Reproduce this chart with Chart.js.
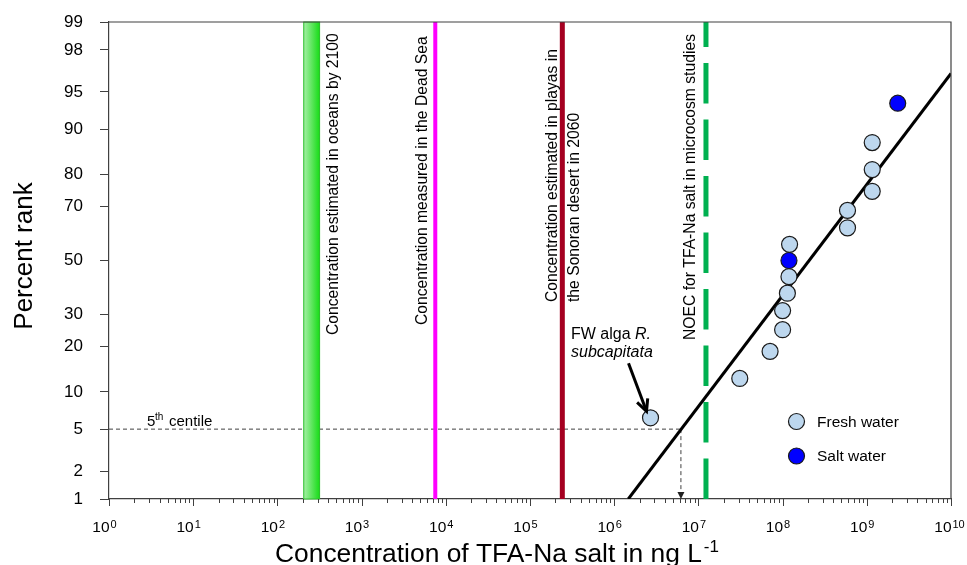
<!DOCTYPE html>
<html>
<head>
<meta charset="utf-8">
<title>SSD TFA-Na salt</title>
<script src="https://cdn.jsdelivr.net/npm/chart.js@4.4.1/dist/chart.umd.min.js"></script>
<style>
  html, body { margin: 0; padding: 0; background: #fff; }
  #wrap { width: 967px; height: 565px; }
</style>
</head>
<body>
<div id="wrap"><canvas id="grafikSSD" width="967" height="565"></canvas></div>
<script>
// =================================================================
// DATA
// =================================================================
const freshConc = [2.7e6, 3.1e7, 7.1e7, 1.0e8, 1.0e8, 1.14e8, 1.19e8, 1.21e8, 5.9e8, 5.9e8, 1.16e9, 1.16e9, 1.16e9];
const freshRank = [6.25, 12.5, 18.75, 25, 31.25, 37.5, 43.75, 56.25, 62.5, 68.75, 75, 81.25, 87.5];
const saltConc = [1.19e8, 2.33e9];
const saltRank = [50, 93.75];

// fitted log-normal SSD, drawn as a straight line on probit paper
const fitConc = [1.47e6, 1e10];
const fitRank = [1, 96.6];

const rankTicks = [1, 2, 5, 10, 20, 30, 50, 70, 80, 90, 95, 98, 99];
const decadeTicks = [0, 1, 2, 3, 4, 5, 6, 7, 8, 9, 10];

// reference concentrations (ng/L)
const oceanBand = [203, 321];
const deadSeaConc = 7500;
const sonoranConc = 2.42e5;
const noecConc = 1.23e7;
const hc5Conc = 6.2e6;
const centileRank = 5;

const FONT = '"Liberation Sans", Arial, Helvetica, sans-serif';

// inverse normal CDF (Acklam) -> probit scale for percent rank
function probit(p) {
    const a = [-3.969683028665376e+01, 2.209460984245205e+02, -2.759285104469687e+02, 1.383577518672690e+02, -3.066479806614716e+01, 2.506628277459239e+00];
    const b = [-5.447609879822406e+01, 1.615858368580409e+02, -1.556989798598866e+02, 6.680131188771972e+01, -1.328068155288572e+01];
    const c = [-7.784894002430293e-03, -3.223964580411365e-01, -2.400758277161838e+00, -2.549732539343734e+00, 4.374664141464968e+00, 2.938163982698783e+00];
    const d = [7.784695709041462e-03, 3.224671290700398e-01, 2.445134137142996e+00, 3.754408661907416e+00];
    const pl = 0.02425;
    let q, r;
    if (p < pl) {
        q = Math.sqrt(-2 * Math.log(p));
        return (((((c[0]*q+c[1])*q+c[2])*q+c[3])*q+c[4])*q+c[5]) / ((((d[0]*q+d[1])*q+d[2])*q+d[3])*q+1);
    }
    if (p > 1 - pl) {
        q = Math.sqrt(-2 * Math.log(1 - p));
        return -(((((c[0]*q+c[1])*q+c[2])*q+c[3])*q+c[4])*q+c[5]) / ((((d[0]*q+d[1])*q+d[2])*q+d[3])*q+1);
    }
    q = p - 0.5; r = q * q;
    return (((((a[0]*r+a[1])*r+a[2])*r+a[3])*r+a[4])*r+a[5])*q / (((((b[0]*r+b[1])*r+b[2])*r+b[3])*r+b[4])*r+1);
}
const z = pct => probit(pct / 100);
const zMin = z(rankTicks[0]);
const zMax = z(rankTicks[rankTicks.length - 1]);

const toPoints = (xs, ps) => xs.map((x, i) => ({ x: x, y: z(ps[i]) }));
const vline = conc => [{ x: conc, y: zMin }, { x: conc, y: zMax }];

// =================================================================
// PLUGIN: annotations, custom x axis, frame
// =================================================================
function rotText(ctx, text, x, y, font) {
    ctx.save();
    ctx.translate(x, y);
    ctx.rotate(-Math.PI / 2);
    ctx.font = font;
    ctx.textAlign = 'left';
    ctx.textBaseline = 'alphabetic';
    ctx.fillText(text, 0, 0);
    ctx.restore();
}

const annotasi = {
    id: 'annotasi',
    beforeDatasetsDraw(chart) {
        const ctx = chart.ctx, xs = chart.scales.x, ys = chart.scales.y, a = chart.chartArea;
        // 5th centile dashed guide + arrow down to the HC5
        const yc = ys.getPixelForValue(z(centileRank));
        const xh = xs.getPixelForValue(hc5Conc);
        ctx.save();
        ctx.strokeStyle = '#404040';
        ctx.lineWidth = 1;
        ctx.setLineDash([4, 3]);
        ctx.beginPath();
        ctx.moveTo(a.left, yc); ctx.lineTo(xh, yc);
        ctx.moveTo(xh, yc); ctx.lineTo(xh, a.bottom - 6);
        ctx.stroke();
        ctx.setLineDash([]);
        ctx.fillStyle = '#202020';
        ctx.beginPath();
        ctx.moveTo(xh, a.bottom); ctx.lineTo(xh - 3.5, a.bottom - 7); ctx.lineTo(xh + 3.5, a.bottom - 7);
        ctx.closePath(); ctx.fill();

        // ocean band with gradient
        const x0 = xs.getPixelForValue(oceanBand[0]);
        const x1 = xs.getPixelForValue(oceanBand[1]);
        const g = ctx.createLinearGradient(x0, 0, x1, 0);
        g.addColorStop(0, '#aaf0aa');
        g.addColorStop(1, '#14dc14');
        ctx.fillStyle = g;
        ctx.fillRect(x0, a.top, x1 - x0, a.bottom - a.top);
        ctx.strokeStyle = '#2fbf2f';
        ctx.lineWidth = 1;
        ctx.strokeRect(x0 + 0.5, a.top, x1 - x0 - 1, a.bottom - a.top);
        ctx.restore();
    },
    afterDatasetsDraw(chart) {
        const ctx = chart.ctx, xs = chart.scales.x, ys = chart.scales.y;
        ctx.save();
        ctx.fillStyle = '#000';
        const f16 = '15.7px ' + FONT;

        // vertical labels
        rotText(ctx, 'Concentration estimated in oceans by 2100', xs.getPixelForValue(oceanBand[1]) + 17.5, 335, f16);
        rotText(ctx, 'Concentration measured in the Dead Sea', xs.getPixelForValue(deadSeaConc) - 8, 325, f16);
        const xs5 = xs.getPixelForValue(sonoranConc);
        rotText(ctx, 'Concentration estimated in playas in', xs5 - 5.5, 302, f16);
        rotText(ctx, 'the Sonoran desert in 2060', xs5 + 17, 302, f16);
        rotText(ctx, 'NOEC for TFA-Na salt in microcosm studies', xs.getPixelForValue(noecConc) - 11, 340, f16);

        // FW alga label + arrow
        ctx.font = '16px ' + FONT;
        ctx.textAlign = 'left';
        ctx.textBaseline = 'alphabetic';
        ctx.fillText('FW alga ', 571, 339);
        const w1 = ctx.measureText('FW alga ').width;
        ctx.font = 'italic 16px ' + FONT;
        ctx.fillText('R.', 571 + w1, 339);
        ctx.fillText('subcapitata', 571, 357);

        const px = xs.getPixelForValue(freshConc[0]);
        const py = ys.getPixelForValue(z(freshRank[0]));
        const tx = px - 4, ty = py - 6.5, sx = px - 22, sy = py - 54.5;
        const ang = Math.atan2(ty - sy, tx - sx);
        ctx.strokeStyle = '#000';
        ctx.lineWidth = 3;
        ctx.lineJoin = 'miter';
        ctx.beginPath();
        ctx.moveTo(sx, sy); ctx.lineTo(tx - 2 * Math.cos(ang), ty - 2 * Math.sin(ang));
        ctx.stroke();
        ctx.beginPath();
        ctx.moveTo(tx + 13 * Math.cos(ang + Math.PI - 0.45), ty + 13 * Math.sin(ang + Math.PI - 0.45));
        ctx.lineTo(tx, ty);
        ctx.lineTo(tx + 13 * Math.cos(ang + Math.PI + 0.45), ty + 13 * Math.sin(ang + Math.PI + 0.45));
        ctx.stroke();

        // 5th centile label
        ctx.font = '15px ' + FONT;
        ctx.fillText('5', 147, 426);
        ctx.font = '10px ' + FONT;
        ctx.fillText('th', 155, 420);
        ctx.font = '15px ' + FONT;
        ctx.fillText('centile', 169, 426);

        // legend
        const items = [chart.data.datasets[0], chart.data.datasets[1]];
        items.forEach((ds, i) => {
            const ly = 421.5 + i * 34.5;
            ctx.beginPath();
            ctx.arc(796.5, ly, 8, 0, Math.PI * 2);
            ctx.fillStyle = ds.backgroundColor;
            ctx.fill();
            ctx.lineWidth = 1.2;
            ctx.strokeStyle = ds.borderColor;
            ctx.stroke();
            ctx.fillStyle = '#000';
            ctx.font = '15.5px ' + FONT;
            ctx.textBaseline = 'middle';
            ctx.fillText(ds.label, 817, ly + 1);
        });
        ctx.restore();
    },
    afterDraw(chart) {
        const ctx = chart.ctx, xs = chart.scales.x, a = chart.chartArea;
        ctx.save();
        // frame top + right
        ctx.strokeStyle = '#404040';
        ctx.lineWidth = 1.2;
        ctx.beginPath();
        ctx.moveTo(a.left, a.top); ctx.lineTo(a.right, a.top); ctx.lineTo(a.right, a.bottom);
        ctx.stroke();

        // x ticks (decades + minor)
        ctx.lineWidth = 1;
        ctx.beginPath();
        decadeTicks.forEach(dd => {
            const x = Math.round(xs.getPixelForValue(Math.pow(10, dd))) + 0.5;
            ctx.moveTo(x, a.bottom); ctx.lineTo(x, a.bottom + 7);
            if (dd < decadeTicks[decadeTicks.length - 1]) {
                for (let m = 2; m <= 9; m++) {
                    const xm = Math.round(xs.getPixelForValue(m * Math.pow(10, dd))) + 0.5;
                    ctx.moveTo(xm, a.bottom); ctx.lineTo(xm, a.bottom + 4);
                }
            }
        });
        ctx.stroke();

        // x tick labels 10^n
        ctx.fillStyle = '#000';
        ctx.textBaseline = 'alphabetic';
        decadeTicks.forEach(dd => {
            const x = xs.getPixelForValue(Math.pow(10, dd));
            ctx.font = '15.5px ' + FONT;
            ctx.textAlign = 'right';
            ctx.fillText('10', x + 0.5, 531.5);
            ctx.font = '11px ' + FONT;
            ctx.textAlign = 'left';
            ctx.fillText(String(dd), x + 1.5, 527.5);
        });

        // axis titles
        ctx.font = '26.4px ' + FONT;
        ctx.textAlign = 'left';
        const tMain = 'Concentration of TFA-Na salt in ng L';
        ctx.fillText(tMain, 275, 562);
        const tw = ctx.measureText(tMain).width;
        ctx.font = '17px ' + FONT;
        ctx.fillText('-1', 275 + tw + 2, 552);

        ctx.save();
        ctx.translate(32, 256);
        ctx.rotate(-Math.PI / 2);
        ctx.font = '26px ' + FONT;
        ctx.textAlign = 'center';
        ctx.fillText('Percent rank', 0, 0);
        ctx.restore();
        ctx.restore();
    }
};

// =================================================================
// CHART
// =================================================================
document.addEventListener('DOMContentLoaded', function () {
    const ctx = document.getElementById('grafikSSD').getContext('2d');
    new Chart(ctx, {
        type: 'scatter',
        data: {
            datasets: [
                {
                    label: 'Fresh water',
                    data: toPoints(freshConc, freshRank),
                    backgroundColor: '#BDD7EE',
                    borderColor: '#1a1a1a',
                    borderWidth: 1.2,
                    pointRadius: 8,
                    pointHoverRadius: 8
                },
                {
                    label: 'Salt water',
                    data: toPoints(saltConc, saltRank),
                    backgroundColor: '#0000FF',
                    borderColor: '#1a1a1a',
                    borderWidth: 1.2,
                    pointRadius: 8,
                    pointHoverRadius: 8
                },
                {
                    label: 'Fit',
                    data: toPoints(fitConc, fitRank),
                    showLine: true,
                    borderColor: '#000',
                    borderWidth: 3,
                    pointRadius: 0
                },
                {
                    label: 'NOEC',
                    data: vline(noecConc),
                    showLine: true,
                    borderColor: '#00B050',
                    borderWidth: 5,
                    borderDash: [40.5, 16],
                    borderCapStyle: 'butt',
                    pointRadius: 0
                },
                {
                    label: 'Sonoran',
                    data: vline(sonoranConc),
                    showLine: true,
                    borderColor: '#A50021',
                    borderWidth: 5,
                    pointRadius: 0
                },
                {
                    label: 'Dead Sea',
                    data: vline(deadSeaConc),
                    showLine: true,
                    borderColor: '#FF00FF',
                    borderWidth: 4,
                    pointRadius: 0
                }
            ]
        },
        options: {
            responsive: false,
            animation: false,
            events: [],
            layout: { padding: { top: 22, right: 16, left: 0, bottom: 0 } },
            plugins: {
                legend: { display: false },
                tooltip: { enabled: false },
                title: { display: false }
            },
            scales: {
                x: {
                    type: 'logarithmic',
                    min: 1,
                    max: 1e10,
                    grid: { display: false },
                    border: { display: true, color: '#404040', width: 1.2 },
                    ticks: { display: false },
                    afterFit: s => { s.height = 66; }
                },
                y: {
                    type: 'linear',
                    min: zMin,
                    max: zMax,
                    afterBuildTicks: s => { s.ticks = rankTicks.map(p => ({ value: z(p) })); },
                    grid: { drawOnChartArea: false, drawTicks: true, tickLength: 9, color: '#404040' },
                    border: { display: true, color: '#404040', width: 1.2 },
                    ticks: {
                        color: '#000',
                        font: { family: FONT, size: 17 },
                        padding: 17,
                        callback: (v, i) => rankTicks[i]
                    },
                    afterFit: s => { s.width = 109; s.paddingTop = 0; s.paddingBottom = 0; }
                }
            }
        },
        plugins: [annotasi]
    });
});
</script>
</body>
</html>
